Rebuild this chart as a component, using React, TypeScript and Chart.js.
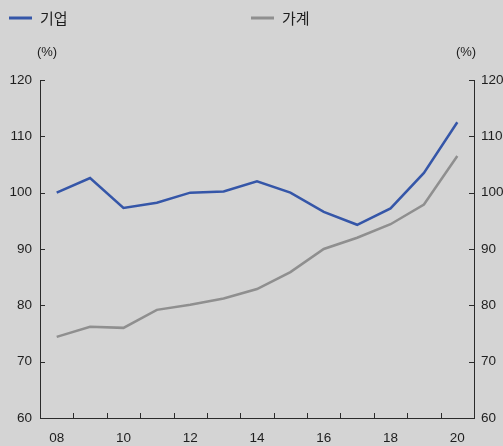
import React, { useEffect, useRef } from "react";
import { Chart, registerables } from "chart.js";

Chart.register(...registerables);

const categories = ["08", "09", "10", "11", "12", "13", "14", "15", "16", "17", "18", "19", "20"];
const corporate = [100.0, 102.6, 97.3, 98.2, 100.0, 100.2, 102.0, 100.0, 96.6, 94.3, 97.2, 103.5, 112.5];
const household = [74.4, 76.2, 76.0, 79.2, 80.1, 81.2, 82.9, 85.9, 90.0, 92.0, 94.4, 97.9, 106.5];
const seriesNames = ["기업", "가계"];
const unitLabel = "(%)";

const BG = "#d4d4d4";
const AXIS = "#2b2b2b";
const TEXT = "#1e1e1e";
const BLUE = "#3556a8";
const GRAY = "#8f8f8f";
const FONT = "Liberation Sans, Arial, sans-serif";

const decorPlugin = {
  id: "decor",
  beforeDraw(chart: any) {
    const { ctx, width, height } = chart;
    ctx.save();
    ctx.fillStyle = BG;
    ctx.fillRect(0, 0, width, height);
    ctx.restore();
  },
  afterDraw(chart: any) {
    const { ctx, chartArea } = chart;
    const x = chart.scales.x;
    const y = chart.scales.y;
    const y1 = chart.scales.y1;
    ctx.save();
    ctx.strokeStyle = AXIS;
    ctx.lineWidth = 1;
    ctx.beginPath();
    y.ticks.forEach((t: any) => {
      const py = Math.round(y.getPixelForValue(t.value)) + 0.5;
      ctx.moveTo(chartArea.left, py);
      ctx.lineTo(chartArea.left + 5, py);
    });
    y1.ticks.forEach((t: any) => {
      const py = Math.round(y1.getPixelForValue(t.value)) + 0.5;
      ctx.moveTo(chartArea.right, py);
      ctx.lineTo(chartArea.right - 5, py);
    });
    for (let i = 1; i < categories.length; i++) {
      const px = Math.round((x.getPixelForValue(i - 1) + x.getPixelForValue(i)) / 2) + 0.5;
      ctx.moveTo(px, chartArea.bottom);
      ctx.lineTo(px, chartArea.bottom - 5);
    }
    ctx.stroke();

    ctx.fillStyle = TEXT;
    ctx.font = `13px ${FONT}`;
    ctx.textAlign = "center";
    ctx.textBaseline = "middle";
    ctx.fillText(unitLabel, 47, 52);
    ctx.fillText(unitLabel, 466, 52);

    const items = [
      { x: 9, color: chart.data.datasets[0].borderColor, label: chart.data.datasets[0].label },
      { x: 251, color: chart.data.datasets[1].borderColor, label: chart.data.datasets[1].label },
    ];
    items.forEach((it) => {
      ctx.strokeStyle = it.color;
      ctx.lineWidth = 3;
      ctx.beginPath();
      ctx.moveTo(it.x, 18);
      ctx.lineTo(it.x + 23, 18);
      ctx.stroke();
      ctx.fillStyle = TEXT;
      ctx.font = `15px "Noto Sans CJK KR", sans-serif`;
      ctx.textAlign = "left";
      ctx.textBaseline = "middle";
      ctx.fillText(it.label, it.x + 31, 18);
    });
    ctx.restore();
  },
};

export default function App() {
  const ref = useRef<HTMLCanvasElement>(null);
  useEffect(() => {
    if (!ref.current) return;
    const tickFont = { family: FONT, size: 13.5 };
    const chart = new Chart(ref.current, {
      type: "line",
      data: {
        labels: categories,
        datasets: [
          {
            label: seriesNames[0],
            data: corporate,
            borderColor: BLUE,
            borderWidth: 2.5,
            pointRadius: 0,
            tension: 0,
            yAxisID: "y",
          },
          {
            label: seriesNames[1],
            data: household,
            borderColor: GRAY,
            borderWidth: 2.5,
            pointRadius: 0,
            tension: 0,
            yAxisID: "y1",
          },
        ],
      },
      options: {
        responsive: false,
        animation: false,
        devicePixelRatio: 1,
        layout: { padding: { top: 80, left: 0, right: 0, bottom: 0 } },
        plugins: { legend: { display: false }, tooltip: { enabled: false } },
        scales: {
          x: {
            offset: true,
            grid: { display: false, drawTicks: false },
            border: { display: true, color: AXIS, width: 1 },
            ticks: {
              autoSkip: false,
              maxRotation: 0,
              padding: 12,
              color: TEXT,
              font: tickFont,
              callback: (_v: any, i: number) => (i % 2 === 0 ? categories[i] : ""),
            },
            afterFit: (s: any) => {
              s.height = 28;
            },
          },
          y: {
            position: "left",
            min: 60,
            max: 120,
            grid: { display: false, drawTicks: false },
            border: { display: true, color: AXIS, width: 1 },
            ticks: { stepSize: 10, padding: 8, color: TEXT, font: tickFont },
            afterFit: (s: any) => {
              s.width = 40;
            },
          },
          y1: {
            position: "right",
            min: 60,
            max: 120,
            grid: { display: false, drawTicks: false },
            border: { display: true, color: AXIS, width: 1 },
            ticks: { stepSize: 10, padding: 7, color: TEXT, font: tickFont },
            afterFit: (s: any) => {
              s.width = 29;
            },
          },
        },
      },
      plugins: [decorPlugin],
    });
    return () => chart.destroy();
  }, []);
  return (
    <div style={{ position: "absolute", left: 0, top: 0, width: 503, height: 446, background: BG }}>
      <canvas ref={ref} width={503} height={446} style={{ display: "block" }} />
    </div>
  );
}
